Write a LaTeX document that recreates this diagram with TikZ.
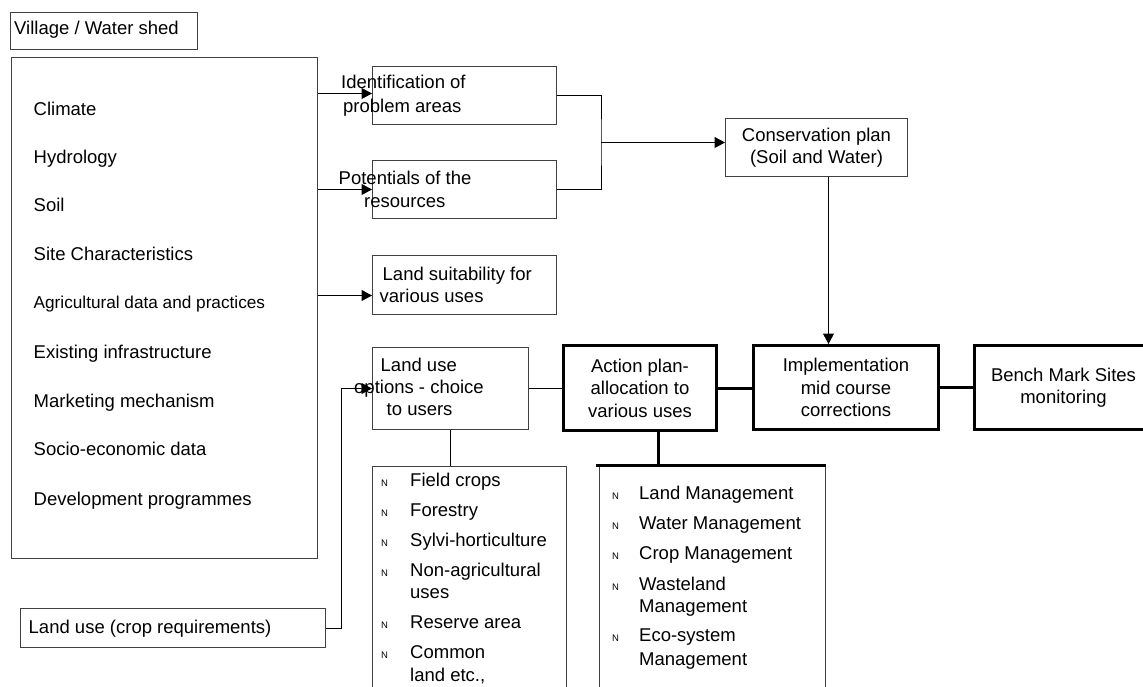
\documentclass[tikz,border=0pt]{standalone}
\usepackage{fontspec}
\setmainfont{Liberation Sans}
\usetikzlibrary{arrows.meta,calc}
\begin{document}
\begin{tikzpicture}[x=1pt,y=-1pt,
  font=\fontsize{18.5}{22.5}\selectfont,
  box/.style={draw=black!75,line width=1pt,inner sep=0pt,anchor=north west,align=center},
  tbox/.style={draw=black,line width=3pt,inner sep=0pt,anchor=north west,align=center},
  txt/.style={anchor=base west,inner sep=0pt},
  bul/.style={anchor=base west,inner sep=0pt,font=\fontsize{9.5}{11}\selectfont},
  con/.style={draw=black,line width=1pt},
  arr/.style={con,-{Triangle[length=10.5pt,width=11pt]}},
  tcon/.style={draw=black,line width=3pt},
]
\useasboundingbox (0,0) rectangle (1143,686);
\clip (0,0) rectangle (1143,686);
\fill[white] (0,0) rectangle (1143,686);

% boxes
\node[box,minimum width=187,minimum height=37] (village) at (10,12.3) {};
\node[txt] (villaget) at (14,34) {Village / Water shed};

\node[box,minimum width=306.3,minimum height=501] (bigbox) at (10.7,57) {};
\node[txt] (i1) at (33.5,115) {Climate};
\node[txt] (i2) at (33.5,163) {Hydrology};
\node[txt] (i3) at (33.5,211) {Soil};
\node[txt] (i4) at (33.5,260) {Site Characteristics};
\node[txt,font=\fontsize{17.2}{21}\selectfont] (i5) at (33.5,308.5) {Agricultural data and practices};
\node[txt] (i6) at (33.5,358) {Existing infrastructure};
\node[txt] (i7) at (33.5,407) {Marketing mechanism};
\node[txt] (i8) at (33.5,455) {Socio-economic data};
\node[txt] (i9) at (33.5,505) {Development programmes};

\node[box,minimum width=184,minimum height=58] (ident) at (372,66) {};
\node[txt] (identa) at (341,88.5) {Identification of};
\node[txt] (identb) at (343,112.5) {problem areas};

\node[box,minimum width=184,minimum height=58] (pot) at (372,160) {};
\node[txt] (pota) at (338.5,184.5) {Potentials of the};
\node[txt] (potb) at (364,207.5) {resources};

\node[box,minimum width=182,minimum height=58] (cons) at (725,118) {Conservation plan\\(Soil and Water)};

\node[box,minimum width=184,minimum height=59] (suit) at (372,255) {};
\node[txt] (suita) at (382.5,280) {Land suitability for};
\node[txt] (suitb) at (379.5,302) {various uses};

\node[box,minimum width=156,minimum height=82] (options) at (372,347) {};
\node[txt] (opta) at (380.5,371.3) {Land use};
\node[txt] (optb) at (354,393.5) {options - choice};
\node[txt] (optc) at (386.5,415.5) {to users};

\node[tbox,minimum width=153,minimum height=85] (action) at (562,344) {Action plan-\\allocation to\\various uses};
\node[tbox,minimum width=185,minimum height=84] (impl) at (752,344) {Implementation\\mid course\\corrections};
\node[tbox,minimum width=178,minimum height=84] (bench) at (973,344) {Bench Mark Sites\\monitoring};

\node[box,minimum width=305,minimum height=39] (crop) at (20,608) {};
\node[txt] (cropt) at (28.5,633.5) {Land use (crop requirements)};

\node[box,minimum width=194,minimum height=260] (field) at (372,466) {};
\node[bul] (fb1) at (381,486) {N};
\node[txt] (f1) at (410,486) {Field crops};
\node[bul] (fb2) at (381,516) {N};
\node[txt] (f2) at (410,516) {Forestry};
\node[bul] (fb3) at (381,546) {N};
\node[txt] (f3) at (410,546) {Sylvi-horticulture};
\node[bul] (fb4) at (381,576) {N};
\node[txt] (f4) at (410,576) {Non-agricultural};
\node[txt] (f4b) at (410,598) {uses};
\node[bul] (fb5) at (381,628.3) {N};
\node[txt] (f5) at (410,628.3) {Reserve area};
\node[bul] (fb6) at (381,658.3) {N};
\node[txt] (f6) at (410,658.3) {Common};
\node[txt] (f6b) at (410,681) {land etc.,};

\node[box,minimum width=226,minimum height=260] (mgmt) at (599,465) {};
\node[bul] (mb1) at (612,499.5) {N};
\node[txt] (m1) at (639,499.5) {Land Management};
\node[bul] (mb2) at (612,529.5) {N};
\node[txt] (m2) at (639,529.5) {Water Management};
\node[bul] (mb3) at (612,559.5) {N};
\node[txt] (m3) at (639,559.5) {Crop Management};
\node[bul] (mb4) at (612,590) {N};
\node[txt] (m4) at (639,590) {Wasteland};
\node[txt] (m4b) at (639,612) {Management};
\node[bul] (mb5) at (612,641.7) {N};
\node[txt] (m5) at (639,641.7) {Eco-system};
\node[txt] (m5b) at (639,665) {Management};
\draw[tcon] ([xshift=-3pt]mgmt.north west) -- (mgmt.north east);

% connectors
\coordinate (ia) at ([yshift=2pt]ident.west);
\draw[arr] (ia -| bigbox.east) -- (ia);
\draw[arr] (pot.west -| bigbox.east) -- (pot.west);
\coordinate (sa) at ([yshift=-10.5pt]suit.west);
\draw[arr] (sa -| bigbox.east) -- (sa);

\coordinate (junc) at ([xshift=44pt]$(ident.east)!0.5!(pot.east)$);
\draw[con] (ident.east) -| (junc) |- (pot.east);
\draw[arr] (junc) -- (junc -| cons.west);

\coordinate (cs) at ([xshift=12pt]cons.south);
\draw[arr] (cs) -- (cs |- impl.north);

\draw[con] (options.east) -- (options.east -| action.west);
\draw[tcon] (action.east) -- (action.east -| impl.west);
\draw[tcon] (impl.east) -- (impl.east -| bench.west);

\draw[arr] (crop.east) -- ++(15,0) |- (options.west);
\draw[con] (options.south) -- (options.south |- field.north);

\coordinate (as) at ([xshift=18.5pt]action.south);
\draw[tcon] (as) -- (as |- mgmt.north);
\end{tikzpicture}
\end{document}
